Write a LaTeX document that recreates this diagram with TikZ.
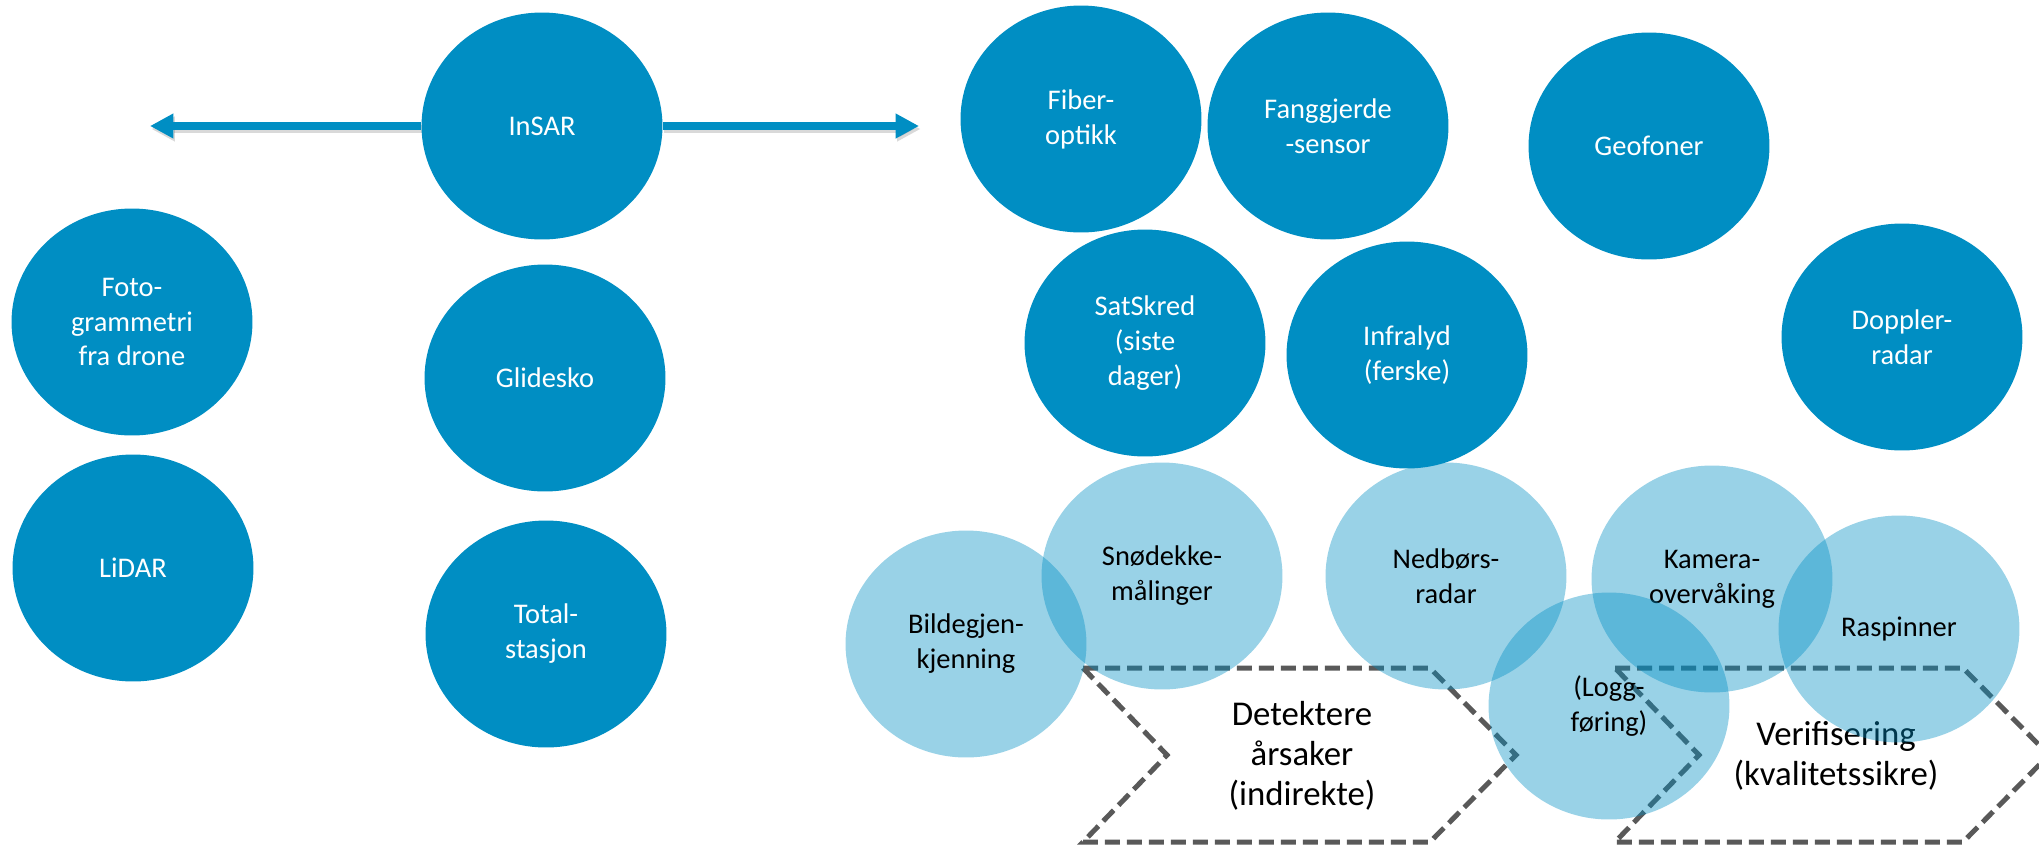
\documentclass[tikz,border=0pt]{standalone}
\usepackage{fontspec}
\setmainfont{Carlito}
\usetikzlibrary{shapes.geometric, arrows.meta, backgrounds}
\definecolor{nveblaa}{RGB}{0,142,195}
\definecolor{kantgraa}{RGB}{89,89,89}

\begin{document}
\begin{tikzpicture}[x=0.02cm, y=-0.02cm,
	mork/.style={ellipse, fill=nveblaa, text=white, inner sep=0pt, minimum width=4.82cm, minimum height=4.54cm, align=center, font=\fontsize{16.2}{19.9}\selectfont},
	lys/.style={mork, fill opacity=0.4, text opacity=1, text=black},
	kant/.style={draw=kantgraa, line width=0.1cm, dash pattern=on 0.3cm off 0.14cm, line join=miter},
	pil/.style={draw=nveblaa, line width=0.16cm, -{Triangle[length=0.47cm, width=0.47cm]}},
	stor/.style={align=center, font=\fontsize{19.8}{22.6}\selectfont}]
				\useasboundingbox (0,0) rectangle (2039,846);
				
				% === Venstre: overvaaking av bevegelse ===
				\node[mork] (insar) at (542,126) {InSAR};
				\node[mork] (foto) at (132,322) {Foto-\\grammetri\\fra drone};
				\node[mork] (lidar) at (133,568) {LiDAR};
				\node[mork] (glidesko) at (545,378) {Glidesko};
				\node[mork] (total) at (546,634) {Total-\\stasjon};
				
				% piler fra InSAR (med skygge)
				\coordinate (pilV) at (150,126);
				\coordinate (pilH) at (919,126);
				\begin{pgfonlayer}{background}
					\draw[pil, draw=black, opacity=0.15, transform canvas={shift={(0.03cm,-0.06cm)}}] (insar) -- (pilV);
					\draw[pil, draw=black, opacity=0.15, transform canvas={shift={(0.03cm,-0.06cm)}}] (insar) -- (pilH);
					\draw[pil] (insar) -- (pilV);
					\draw[pil] (insar) -- (pilH);
				\end{pgfonlayer}
				
				% === Hoeyre: deteksjon av skred ===
				\node[mork] (fiber) at (1081,119) {Fiber-\\optikk};
				\node[mork] (fanggjerde) at (1328,126) {Fanggjerde\\-sensor};
				\node[mork] (geofoner) at (1649,146) {Geofoner};
				\node[mork] (satskred) at (1145,343) {SatSkred\\(siste\\dager)};
				\node[mork] (infralyd) at (1407,355) {Infralyd\\(ferske)};
				\node[mork] (doppler) at (1902,337) {Doppler-\\radar};
				
				% piler (stiplet) for aarsaker og verifisering
				\draw[kant] (1083,668) -- (1430,668) -- (1516,755) -- (1430,842) -- (1083,842) -- (1167,755) -- cycle;
				\draw[kant] (1615,668) -- (1963,668) -- (2049,755) -- (1963,842) -- (1615,842) -- (1699,755) -- cycle;
				\node[stor] (detektere) at (1302,756) {Detektere\\årsaker\\(indirekte)};
				\node[stor] (verifisering) at (1836,756) {Verifisering\\(kvalitetssikre)};
				
				% lyse (gjennomsiktige) ellipser
				\node[lys] (bildegjen) at (966,644) {Bildegjen-\\kjenning};
				\node[lys] (snodekke) at (1162,576) {Snødekke-\\målinger};
				\node[lys] (nedbor) at (1446,576) {Nedbørs-\\radar};
				\node[lys] (kamera) at (1712,579) {Kamera-\\overvåking};
				\node[lys] (raspinner) at (1899,629) {Raspinner};
				\node[lys] (logg) at (1609,706) {(Logg-\\føring)};
			\end{tikzpicture}
\end{document}
